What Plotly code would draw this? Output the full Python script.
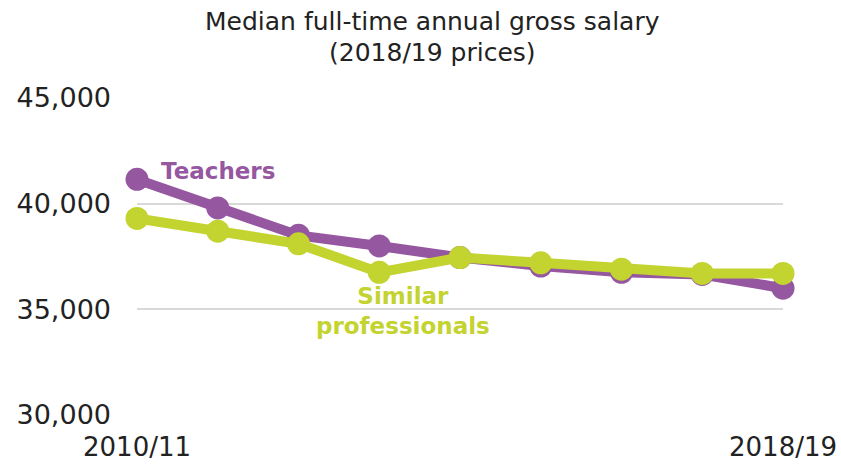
import plotly.graph_objects as go

years = ["2010/11", "2011/12", "2012/13", "2013/14", "2014/15", "2015/16", "2016/17", "2017/18", "2018/19"]
teachers = [41150, 39800, 38500, 38000, 37450, 37050, 36750, 36650, 36000]
similar = [39300, 38700, 38100, 36750, 37450, 37200, 36900, 36700, 36700]
y_ticks = [30000, 35000, 40000, 45000]
y_tick_labels = ["30,000", "35,000", "40,000", "45,000"]
x_tick_labels = ["2010/11", "2018/19"]
title_lines = ["Median full-time annual gross salary", "(2018/19 prices)"]

PURPLE = "#9657A1"
GREEN = "#C3D32F"

fig = go.Figure()
fig.add_trace(go.Scatter(x=years, y=teachers, mode="lines+markers", name="Teachers",
                         line=dict(color=PURPLE, width=10), marker=dict(size=23, color=PURPLE),
                         cliponaxis=False))
fig.add_trace(go.Scatter(x=years, y=similar, mode="lines+markers", name="Similar professionals",
                         line=dict(color=GREEN, width=10), marker=dict(size=23, color=GREEN),
                         cliponaxis=False))

fig.add_annotation(x=1.0, y=41550, xref="x", yref="y", text="<b>Teachers</b>", showarrow=False,
                   font=dict(family="DejaVu Sans", size=23, color=PURPLE))
fig.add_annotation(x=3.3, y=34900, xref="x", yref="y", text="<b>Similar<br>professionals</b>",
                   showarrow=False, align="center",
                   font=dict(family="DejaVu Sans", size=23, color=GREEN))
for line, shift in zip(title_lines, [77, 46]):
    fig.add_annotation(x=0.458, y=1, xref="paper", yref="paper", yanchor="middle", yshift=shift,
                       text=line, showarrow=False, align="center",
                       font=dict(family="DejaVu Sans", size=25, color="#222222"))

fig.update_layout(
    width=841, height=465,
    margin=dict(l=137, r=58, t=98, b=50),
    plot_bgcolor="white", paper_bgcolor="white",
    showlegend=False,
    hovermode=False,
    font=dict(family="DejaVu Sans", color="#222222"),
    xaxis=dict(type="category", range=[0, 8], tickmode="array", tickvals=[years[0], years[-1]],
               ticktext=x_tick_labels, showgrid=False, zeroline=False, showline=False,
               automargin=False,
               ticks="", tickfont=dict(size=26, color="#222222"), ticklabelstandoff=14),
    yaxis=dict(range=[30000, 45000], tickmode="array", tickvals=y_ticks, ticktext=y_tick_labels,
               showgrid=True, gridcolor="#D9D9D9", gridwidth=2, zeroline=False, showline=False,
               automargin=False,
               ticks="", tickfont=dict(size=27, color="#222222"), ticklabelstandoff=25),
)

fig.write_html("out.html", config={"displayModeBar": False},
               post_script="document.body.style.margin='0';document.body.style.overflow='hidden';")
